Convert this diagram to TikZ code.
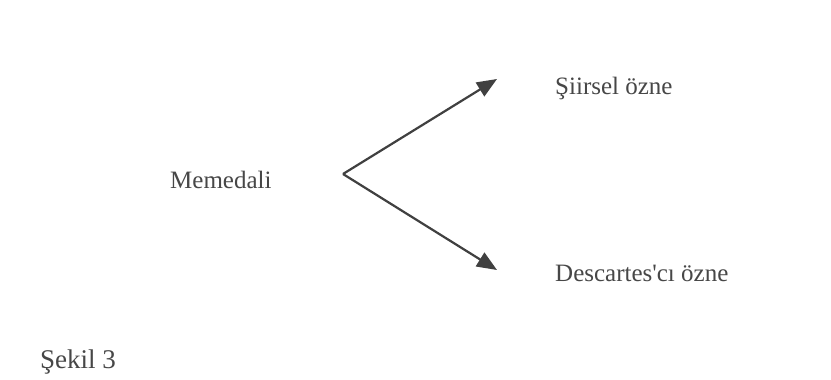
\documentclass[tikz,border=0pt]{standalone}
\usepackage{fontspec}
\setmainfont{Liberation Serif}
\usetikzlibrary{arrows.meta}
\begin{document}
\begin{tikzpicture}[x=1pt,y=-1pt,
  lbl/.style={inner sep=0pt,anchor=base west,text=black!72,font=\fontsize{25}{28}\selectfont},
  arr/.style={draw=black!75,line width=2.2pt,-{Triangle[length=20pt,width=16pt]}}]
\useasboundingbox[fill=white] (0,0) rectangle (831,380);
\node[lbl] (mem) at (170,188) {Memedali};
\node[lbl] (sir) at (555,94) {Şiirsel özne};
\node[lbl] (des) at (555,281) {Descartes\textquotesingle cı özne};
\node[lbl,font=\fontsize{27}{30}\selectfont] (sek) at (40,368) {Şekil 3};
\coordinate (v) at (343,174);
\coordinate (t1) at (497,79);
\coordinate (t2) at (497,270);
\draw[arr] (v) -- (t1);
\draw[arr] (v) -- (t2);
\end{tikzpicture}
\end{document}
